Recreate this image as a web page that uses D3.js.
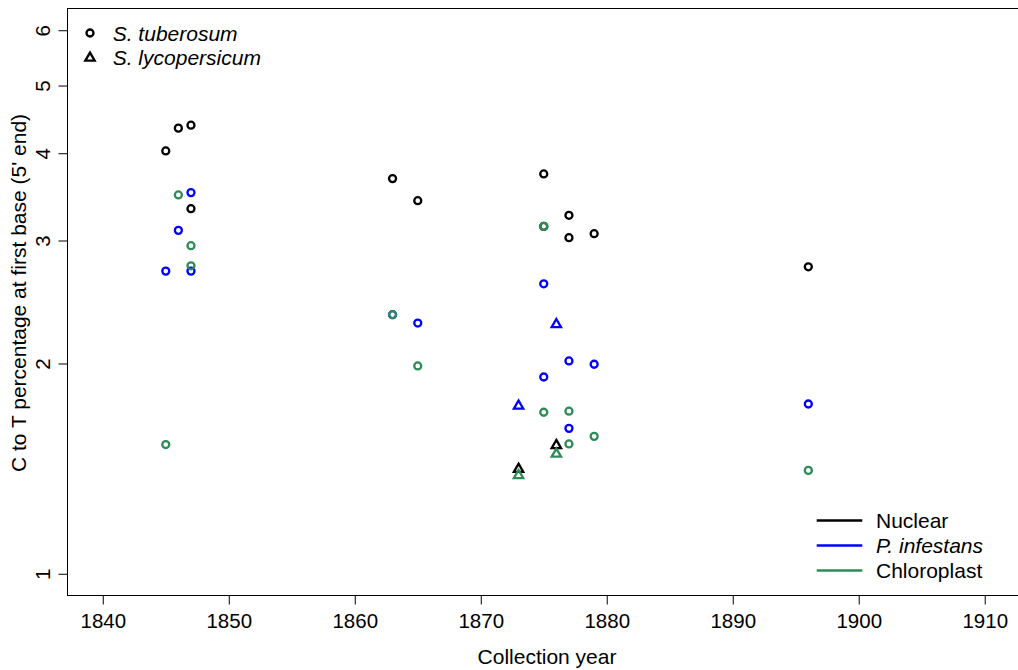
<!DOCTYPE html>
<html>
<head>
<meta charset="utf-8">
<script src="https://cdn.jsdelivr.net/npm/d3@7/dist/d3.min.js"></script>
<style>
  body { margin: 0; background: #fff; }
  svg text { font-family: "Liberation Sans", Arial, sans-serif; fill: #000; }
</style>
</head>
<body>
<div id="chart"></div>
<script>
// data
var tuberYears = [1845, 1846, 1847, 1847, 1863, 1865, 1875, 1875, 1877, 1877, 1879, 1896];
var nuclearTuber = [4.03, 4.345, 4.387, 3.332, 3.679, 3.421, 3.736, 3.143, 3.260, 3.028, 3.068, 2.751];
var pinfTuber    = [2.712, 3.102, 3.513, 2.712, 2.349, 2.285, 2.601, 1.913, 2.017, 1.615, 1.995, 1.750];
var chloroTuber  = [1.531, 3.486, 2.949, 2.760, 2.349, 1.984, 3.143, 1.703, 1.709, 1.534, 1.573, 1.406];

var tomatoYears = [1873, 1876];
var nuclearTomato = [1.412, 1.527];
var pinfTomato    = [1.739, 2.275];
var chloroTomato  = [1.383, 1.484];

var xTicks = [1840, 1850, 1860, 1870, 1880, 1890, 1900, 1910];
var yTicks = [1, 2, 3, 4, 5, 6];

var seriesNames = ["Nuclear", "P. infestans", "Chloroplast"];
var seriesColors = ["#000000", "#0000ff", "#2e8b57"];
var speciesNames = ["S. tuberosum", "S. lycopersicum"];

var width = 1018, height = 670;
var plot = {left: 67.5, top: 8.5, right: 1020, bottom: 595.5};

var svg = d3.select("#chart").append("svg")
    .attr("width", width)
    .attr("height", height);

// R style 4% extension of the limits
var xlim = [1840, 1910], xpad = (xlim[1] - xlim[0]) * 0.04;
var x = d3.scaleLinear()
    .domain([xlim[0] - xpad, xlim[1] + xpad])
    .range([plot.left, plot.right]);

var ly = [Math.log10(1), Math.log10(6)], lpad = (ly[1] - ly[0]) * 0.04;
var y = d3.scaleLog()
    .domain([Math.pow(10, ly[0] - lpad), Math.pow(10, ly[1] + lpad)])
    .range([plot.bottom, plot.top]);

// box
svg.append("rect")
    .attr("x", plot.left)
    .attr("y", plot.top)
    .attr("width", plot.right - plot.left)
    .attr("height", plot.bottom - plot.top)
    .attr("fill", "none")
    .attr("stroke", "#000")
    .attr("stroke-width", 1);

// x axis
var gx = svg.append("g")
    .attr("transform", "translate(0," + plot.bottom + ")")
    .call(d3.axisBottom(x).tickValues(xTicks).tickFormat(d3.format("d")).tickSize(9).tickSizeOuter(0));
gx.select(".domain").remove();
gx.selectAll("text")
    .attr("y", 32.2).attr("dy", 0)
    .style("font-size", "20.5px");

// y axis
var gy = svg.append("g")
    .attr("transform", "translate(" + plot.left + ",0)")
    .call(d3.axisLeft(y).tickValues(yTicks).tickFormat(d3.format("d")).tickSize(9).tickSizeOuter(0));
gy.select(".domain").remove();
gy.selectAll("text")
    .attr("x", 0).attr("y", 0).attr("dy", 0)
    .attr("text-anchor", "middle")
    .attr("transform", "translate(-17.5,0) rotate(-90)")
    .style("font-size", "20.5px");

// axis titles
svg.append("text")
    .attr("x", 547)
    .attr("y", 664)
    .attr("text-anchor", "middle")
    .style("font-size", "21px")
    .text("Collection year");

svg.append("text")
    .attr("transform", "translate(26,293) rotate(-90)")
    .attr("text-anchor", "middle")
    .style("font-size", "21px")
    .text("C to T percentage at first base (5' end)");

// points
var tri = d3.symbol().type(d3.symbolTriangle).size(38);

function drawSeries(years, vals, color, shape) {
  var data = years.map(function(d, i) { return {year: d, v: vals[i]}; });
  if (shape === "circle") {
    svg.append("g").selectAll("circle")
        .data(data).enter().append("circle")
        .attr("cx", function(d) { return x(d.year); })
        .attr("cy", function(d) { return y(d.v); })
        .attr("r", 3.5)
        .attr("fill", "none")
        .attr("stroke", color)
        .attr("stroke-width", 2.3);
  } else {
    svg.append("g").selectAll("path")
        .data(data).enter().append("path")
        .attr("d", tri)
        .attr("transform", function(d) { return "translate(" + x(d.year) + "," + y(d.v) + ")"; })
        .attr("fill", "none")
        .attr("stroke", color)
        .attr("stroke-width", 2.3);
  }
}

drawSeries(tuberYears, nuclearTuber, seriesColors[0], "circle");
drawSeries(tomatoYears, nuclearTomato, seriesColors[0], "triangle");
drawSeries(tuberYears, pinfTuber, seriesColors[1], "circle");
drawSeries(tomatoYears, pinfTomato, seriesColors[1], "triangle");
drawSeries(tuberYears, chloroTuber, seriesColors[2], "circle");
drawSeries(tomatoYears, chloroTomato, seriesColors[2], "triangle");

// species legend (top left)
var legTop = svg.append("g");
legTop.append("circle")
    .attr("cx", 90).attr("cy", 33).attr("r", 3.5)
    .attr("fill", "none").attr("stroke", "#000").attr("stroke-width", 2.3);
legTop.append("path")
    .attr("d", tri)
    .attr("transform", "translate(90,58)")
    .attr("fill", "none").attr("stroke", "#000").attr("stroke-width", 2.3);
speciesNames.forEach(function(name, i) {
  legTop.append("text")
      .attr("x", 112.7)
      .attr("y", 40.6 + i * 24.5)
      .style("font-size", "21px")
      .style("font-style", "italic")
      .text(name);
});

// genome legend (bottom right)
var legBot = svg.append("g");
seriesNames.forEach(function(name, i) {
  var ly0 = 520.5 + i * 25;
  legBot.append("line")
      .attr("x1", 816.7).attr("x2", 862.3)
      .attr("y1", ly0).attr("y2", ly0)
      .attr("stroke", seriesColors[i])
      .attr("stroke-width", 2.5);
  legBot.append("text")
      .attr("x", 876)
      .attr("y", ly0 + 7.4)
      .style("font-size", "21px")
      .style("font-style", i === 1 ? "italic" : "normal")
      .text(name);
});
</script>
</body>
</html>
